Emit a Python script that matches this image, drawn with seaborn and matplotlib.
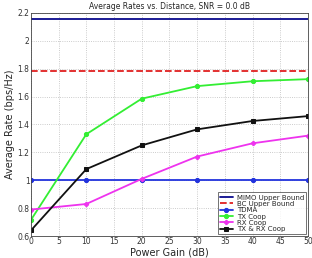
import matplotlib
matplotlib.use('Agg')
import matplotlib.pyplot as plt
import numpy as np
import pandas as pd
import seaborn as sns

# data
power_gain = [0, 10, 20, 30, 40, 50]
mimo_bound = [2.155] * 6
bc_bound = [1.786] * 6
tdma = [1.0, 1.0, 1.0, 1.0, 1.0, 1.0]
tx_coop = [0.715, 1.33, 1.585, 1.675, 1.71, 1.725]
rx_coop = [0.79, 0.83, 1.01, 1.17, 1.265, 1.32]
txrx_coop = [0.64, 1.08, 1.25, 1.365, 1.425, 1.46]

sns.set_style('whitegrid')
plt.rcParams['font.family'] = ['DejaVu Sans']

fig = plt.figure(figsize=(3.12, 2.58), dpi=100)
ax = fig.add_axes([0.099, 0.085, 0.888, 0.865])

series = [
    ('MIMO Upper Bound', mimo_bound, '#0a0a8c', '-', None),
    ('BC Upper Bound', bc_bound, '#e02020', '--', None),
    ('TDMA', tdma, '#2233dd', '-', 'o'),
    ('TX Coop', tx_coop, '#33ee33', '-', 'o'),
    ('RX Coop', rx_coop, '#ee33ee', '-', 'P'),
    ('TX & RX Coop', txrx_coop, '#111111', '-', 's'),
]

for name, vals, col, ls, mk in series:
    df = pd.DataFrame({'x': power_gain, 'y': vals})
    if name.endswith('Bound'):
        ax.axhline(vals[0], color=col, linestyle=ls, lw=1.3, label=name)
    else:
        sns.lineplot(data=df, x='x', y='y', ax=ax, color=col, linestyle=ls,
                     marker=mk, markersize=3, markeredgecolor=col, lw=1.3,
                     label=name)

ax.set_xlim(0, 50)
ax.set_ylim(0.6, 2.2)
ax.set_xticks(np.arange(0, 51, 5))
yt = np.round(np.arange(0.6, 2.21, 0.2), 1)
ax.set_yticks(yt)
ax.set_yticklabels([('%g' % v) for v in yt])
ax.tick_params(labelsize=5.5, pad=1, length=2, direction='in', labelcolor='#333333')
ax.grid(True, linestyle=':', color='#bbbbbb', lw=0.6)
for s in ax.spines.values():
    s.set_color('#444444')
    s.set_linewidth(0.6)

ax.set_title('Average Rates vs. Distance, SNR = 0.0 dB', fontsize=5.5, pad=3)
ax.set_xlabel('Power Gain (dB)', fontsize=7, labelpad=1)
ax.set_ylabel('Average Rate (bps/Hz)', fontsize=7, labelpad=2)

leg = ax.legend(loc='lower right', fontsize=5, frameon=True, fancybox=False,
                borderpad=0.3, labelspacing=0.05, handlelength=1.8,
                handletextpad=0.6, borderaxespad=0.25)
leg.get_frame().set_edgecolor('#333333')
leg.get_frame().set_linewidth(0.6)

fig.savefig('out.png', dpi=100)
